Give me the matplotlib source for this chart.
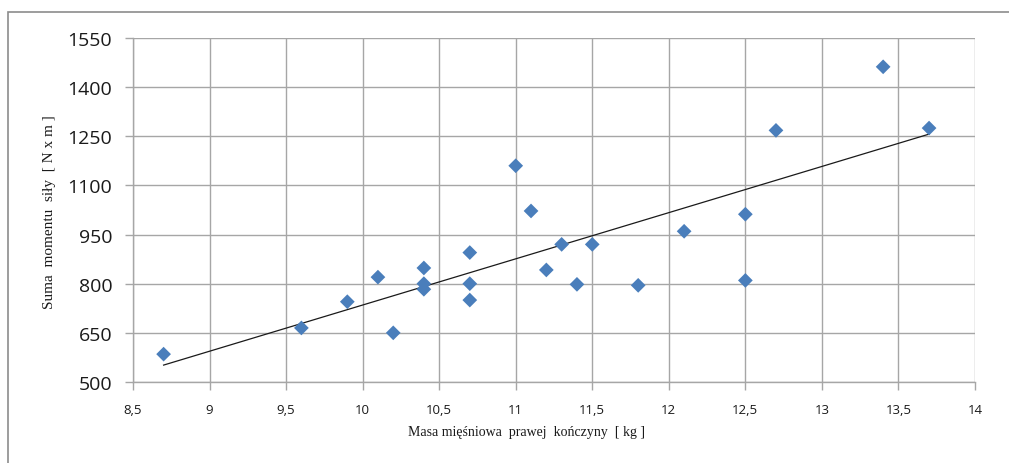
import matplotlib

matplotlib.use("Agg")

import matplotlib.pyplot as plt
import numpy as np
from matplotlib.patches import Rectangle
from matplotlib.ticker import FuncFormatter

# muscle mass of right limb [kg] vs sum of force moments [N x m]
masa = [8.7, 9.6, 9.9, 10.1, 10.2, 10.4, 10.4, 10.4, 10.7, 10.7, 10.7,
        11.0, 11.1, 11.2, 11.3, 11.4, 11.5, 11.8, 12.1, 12.5, 12.5,
        12.7, 13.4, 13.7]
moment = [585, 665, 745, 820, 650, 848, 800, 783, 895, 800, 750,
          1160, 1022, 842, 920, 798, 920, 795, 960, 1012, 810,
          1268, 1462, 1275]

x_ticks = [8.5, 9, 9.5, 10, 10.5, 11, 11.5, 12, 12.5, 13, 13.5, 14]
y_ticks = [500, 650, 800, 950, 1100, 1250, 1400, 1550]

grid_color = "#a6a6a6"

fig = plt.figure(figsize=(10.09, 4.64), dpi=100)
ax = fig.add_axes([0.1318, 0.1746, 0.8345, 0.7414])

ax.scatter(masa, moment, marker="D", s=7.5 ** 2, color="#4a7ebb",
           edgecolors="none", zorder=3)

# linear trend line
coef = np.polyfit(masa, moment, 1)
xs = np.array([min(masa), max(masa)])
ax.plot(xs, np.polyval(coef, xs), color="#1a1a1a", lw=0.9, zorder=2)

ax.set_xlim(8.5, 14)
ax.set_ylim(500, 1550)
ax.set_xticks(x_ticks)
ax.set_yticks(y_ticks)
ax.xaxis.set_major_formatter(
    FuncFormatter(lambda v, _: f"{v:g}".replace(".", ",")))
ax.grid(True, color=grid_color, lw=1.0)
ax.set_axisbelow(True)

for side in ["top", "right"]:
    ax.spines[side].set_visible(False)
for side in ["left", "bottom"]:
    ax.spines[side].set_color(grid_color)
    ax.spines[side].set_linewidth(1.0)

ax.tick_params(axis="y", length=6, width=1, color=grid_color, pad=9,
               labelsize=14, labelcolor="#1a1a1a")
ax.tick_params(axis="x", length=6, width=1, color=grid_color, pad=9,
               labelsize=9.5, labelcolor="#1a1a1a")
for lab in ax.get_yticklabels() + ax.get_xticklabels():
    lab.set_fontfamily("Open Sans")

fig.text(0.522, 0.067, "Masa mięśniowa  prawej  kończyny  [ kg ]",
         family="Liberation Serif", fontsize=10, ha="center", va="center",
         color="#1a1a1a")
fig.text(0.049, 0.543, "Suma  momentu  siły  [ N x m ]",
         family="Liberation Serif", fontsize=11, ha="center", va="center",
         rotation=90, color="#1a1a1a")

# outer chart frame
fig.patches.append(Rectangle((8 / 1009, -0.05), 1.1, 1 - 13 / 464 + 0.05,
                             transform=fig.transFigure, fill=False,
                             edgecolor="#8c8c8c", lw=1.2))

fig.savefig("out.png", dpi=100)
